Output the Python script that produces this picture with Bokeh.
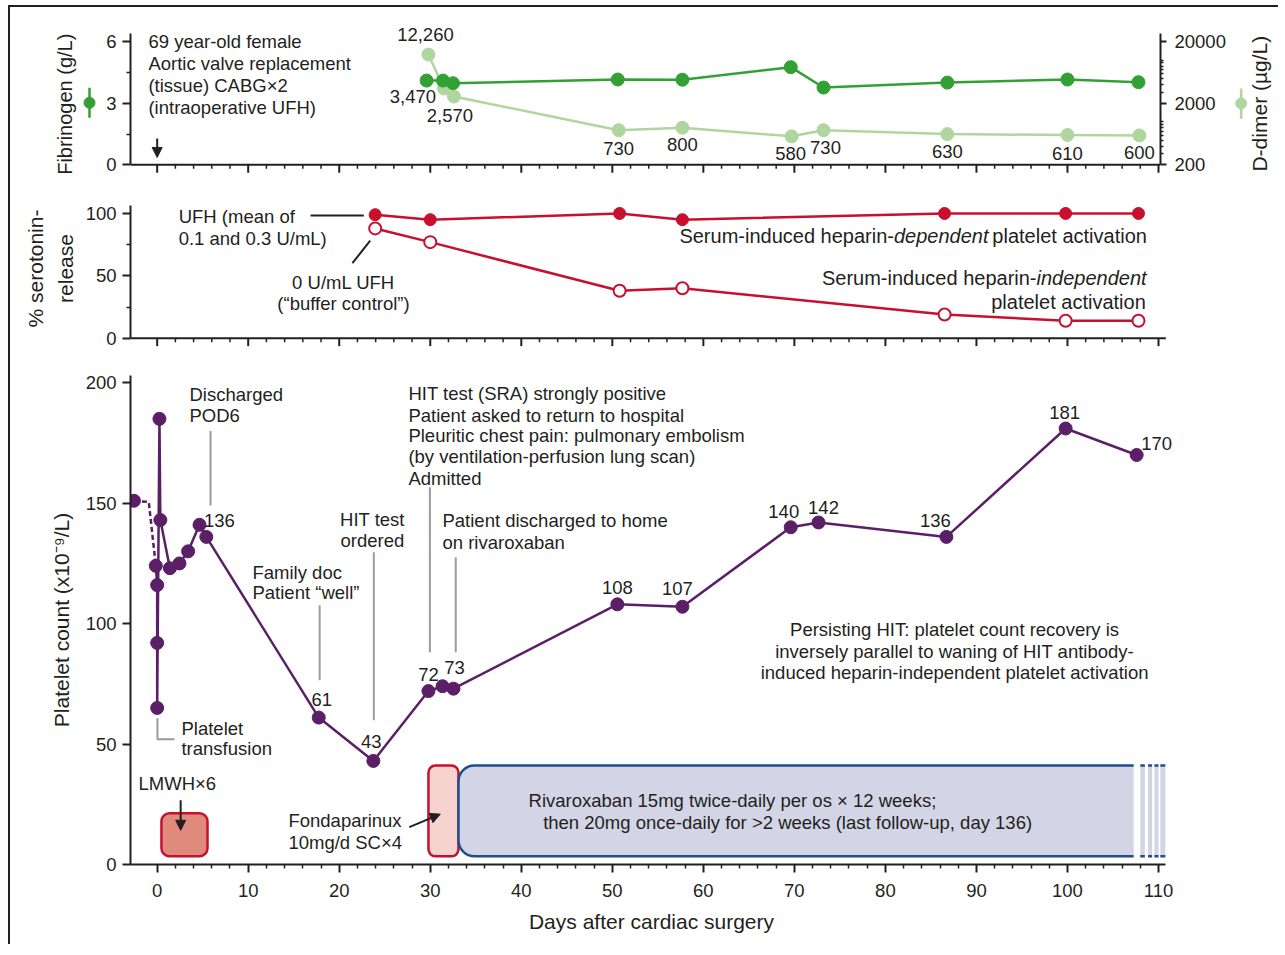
import math
from bokeh.plotting import figure
from bokeh.layouts import column, row
from bokeh.models import (Range1d, LogAxis, LogScale, FixedTicker, Arrow, NormalHead,
                          NumeralTickFormatter)
from bokeh.core.properties import value
from bokeh.embed import file_html
from bokeh.resources import INLINE

# ---------------- data ----------------
fib_days = [29.6, 31.4, 32.5, 50.6, 57.7, 69.6, 73.2, 86.8, 100.0, 107.8]
fibrinogen = [4.10, 4.10, 3.97, 4.15, 4.14, 4.75, 3.76, 4.00, 4.15, 4.02]
ddimer_days = [29.8, 31.5, 32.6, 50.7, 57.7, 69.7, 73.2, 86.8, 100.0, 107.9]
ddimer = [12260, 3470, 2570, 730, 800, 580, 730, 630, 610, 600]

sero_days = [23.95, 30.0, 50.8, 57.7, 86.5, 99.8, 107.8]
sero_ufh = [99, 95, 100, 95, 100, 100, 100]
sero_buffer = [88, 77, 38, 40, 19, 14, 14]

plt_days = [-2.55, -0.15, 0.0, 0.0, 0.0, 0.25, 0.35, 1.4, 2.45, 3.4, 4.65, 5.4,
            17.75, 23.75, 29.8, 31.35, 32.55, 50.55, 57.7, 69.6, 72.65, 86.7, 99.8, 107.6]
platelets = [151, 124, 116, 92, 65, 185, 143, 123, 125, 130, 141, 136,
             61, 43, 72, 74, 73, 108, 107, 140, 142, 136, 181, 170]

lmwh_period = [0.47, 5.53]
fonda_period = [29.8, 33.1]
riva_period = [33.1, 107.55]
riva_tail_left = [108.0, 108.85, 109.55, 110.2]
riva_tail_right = [108.5, 109.3, 110.0, 110.75]

x_ticks = list(range(0, 111, 10))
x_minor = [d for d in range(0, 111, 2) if d % 10]
fib_ticks = [0, 3, 6]
dd_ticks = [200, 2000, 20000]
sero_ticks = [0, 50, 100]
plt_ticks = [0, 50, 100, 150, 200]

# ---------------- style ----------------
FONT = "Liberation Sans"
INK = "#231f20"
GREEN = "#33a035"
LGREEN = "#b0d69f"
RED = "#c8102e"
PURPLE = "#5a1f66"
GRAY = "#9b9b9b"
BLUE = "#1f4f8a"
RIVA = "#d3d5e6"
FS = "18.5px"
TITLE_FS = "21px"

X_LEFT = -2.93
PX_PER_DAY = 9.103


def style_axis(ax):
    ax.axis_line_width = 2
    ax.axis_line_color = INK
    ax.major_tick_line_width = 2
    ax.major_tick_line_color = INK
    ax.minor_tick_line_width = 1.5
    ax.minor_tick_line_color = INK
    ax.major_tick_in = 0
    ax.major_tick_out = 8
    ax.minor_tick_in = 0
    ax.minor_tick_out = 4
    ax.major_label_text_font = FONT
    ax.major_label_text_font_size = FS
    ax.major_label_text_color = INK
    ax.axis_label_text_font = FONT
    ax.axis_label_text_font_size = TITLE_FS
    ax.axis_label_text_font_style = "normal"
    ax.axis_label_text_color = INK


def make_fig(width, height, xr, yr, bl, br, bt, bb):
    p = figure(width=width, height=height, x_range=xr, y_range=yr,
               output_backend="svg", toolbar_location=None,
               min_border_left=bl, min_border_right=br,
               min_border_top=bt, min_border_bottom=bb)
    p.outline_line_color = None
    p.grid.visible = False
    p.background_fill_color = "white"
    p.border_fill_color = "white"
    return p


def texts(p, xs, ys, txt, align="left", size=FS, style="normal", color=INK, **kw):
    p.text(x=xs, y=ys, text=txt, text_font=value(FONT), text_font_size=size,
           text_align=align, text_baseline="middle", text_color=color,
           text_font_style=style, **kw)


def glyph_xaxis(p, yr, frame_h, x_end):
    """x axis drawn inside the frame (line + ticks, no labels)."""
    scale = frame_h / (yr.end - yr.start)
    p.line([X_LEFT, x_end], [0, 0], line_color=INK, line_width=2)
    p.segment(x0=x_ticks, y0=[0] * len(x_ticks), x1=x_ticks,
              y1=[-8 / scale] * len(x_ticks), line_color=INK, line_width=2)
    p.segment(x0=x_minor, y0=[0] * len(x_minor), x1=x_minor,
              y1=[-4 / scale] * len(x_minor), line_color=INK, line_width=1.5)


# ================= top panel: fibrinogen / D-dimer =================
H1, BT1, BB1 = 173, 13, 7
FH1 = H1 - BT1 - BB1
fib_top_axis = 6.39
yr1 = Range1d(-0.42, 7.02)
scale1 = FH1 / (yr1.end - yr1.start)
x_end1 = X_LEFT + 1030 / PX_PER_DAY
p1 = make_fig(1136, H1, Range1d(X_LEFT, x_end1), yr1, 32, 74, BT1, BB1)
p1.xaxis.visible = False
p1.yaxis.ticker = FixedTicker(ticks=fib_ticks, minor_ticks=[1.5, 4.5])
style_axis(p1.yaxis[0])
p1.yaxis.bounds = (0, fib_top_axis)
p1.yaxis.major_label_standoff = 6

dd_lo = 200 * 10 ** (yr1.start / 3)
dd_hi = 200 * 10 ** (yr1.end / 3)
p1.extra_y_ranges = {"dd": Range1d(dd_lo, dd_hi)}
p1.extra_y_scales = {"dd": LogScale()}
dd_minor = list(range(300, 1001, 100)) + list(range(3000, 10001, 1000))
ax_dd = LogAxis(y_range_name="dd", ticker=FixedTicker(ticks=dd_ticks, minor_ticks=dd_minor),
                formatter=NumeralTickFormatter(format="0"))
style_axis(ax_dd)
ax_dd.bounds = (200, 200 * 10 ** (fib_top_axis / 3))
ax_dd.major_tick_out = 6
ax_dd.minor_tick_out = 3
ax_dd.major_label_standoff = 8
p1.add_layout(ax_dd, "right")
glyph_xaxis(p1, yr1, FH1, x_end1)

p1.line(ddimer_days, ddimer, y_range_name="dd", line_color=LGREEN, line_width=2.5)
p1.scatter(ddimer_days, ddimer, y_range_name="dd", size=13, fill_color=LGREEN, line_color=LGREEN)
p1.line(fib_days, fibrinogen, line_color=GREEN, line_width=2.5)
p1.scatter(fib_days, fibrinogen, size=13, fill_color=GREEN, line_color=GREEN)

dd_off = [(-3, -20), (-31, 8), (-4, 19), (0, 18), (0, 17), (-1, 17), (2, 17), (0, 17), (0, 19), (0, 17)]
p1.text(x=ddimer_days, y=ddimer, y_range_name="dd", text=[f"{v:,}" for v in ddimer],
        x_offset=[o[0] for o in dd_off], y_offset=[o[1] for o in dd_off],
        text_font=value(FONT), text_font_size=FS, text_align="center",
        text_baseline="middle", text_color=INK)

texts(p1, [-0.96] * 4, [6.0, 4.93, 3.86, 2.79],
      ["69 year-old female", "Aortic valve replacement", "(tissue) CABG×2", "(intraoperative UFH)"])
p1.add_layout(Arrow(end=NormalHead(size=10, fill_color=INK, line_color=INK),
                    x_start=0, y_start=1.28, x_end=0, y_end=0.36, line_width=2, line_color=INK))

# side strips holding the axis titles and their series keys (full-height frames)
side_yr = Range1d(yr1.start - BB1 / scale1, yr1.end + BT1 / scale1)
lf = make_fig(88, H1, Range1d(0, 88), side_yr, 0, 0, 0, 0)
lf.axis.visible = False
lf.line([79, 79], [3.96, 2.30], line_color=GREEN, line_width=2.5)
lf.scatter([79], [3.13], size=11, fill_color=GREEN, line_color=GREEN)
texts(lf, [54], [3.05], ["Fibrinogen (g/L)"], align="center", size="20px", angle=math.pi / 2)

rf = make_fig(44, H1, Range1d(0, 44), side_yr, 0, 0, 0, 0)
rf.axis.visible = False
rf.line([6.7, 6.7], [3.91, 2.25], line_color=LGREEN, line_width=2.5)
rf.scatter([6.7], [3.09], size=11, fill_color=LGREEN, line_color=LGREEN)
texts(rf, [25], [3.08], ["D-dimer (µg/L)"], align="center", size=TITLE_FS, angle=math.pi / 2)

# ================= middle panel: serotonin release =================
H2, BT2, BB2 = 174, 10, 8
FH2 = H2 - BT2 - BB2
yr2 = Range1d(-6.66, 118.4)
x_end23 = X_LEFT + 1042 / PX_PER_DAY
p2 = make_fig(1268, H2, Range1d(X_LEFT, x_end23), yr2, 120, 106, BT2, BB2)
p2.xaxis.visible = False
p2.yaxis.ticker = FixedTicker(ticks=sero_ticks, minor_ticks=[25, 75])
style_axis(p2.yaxis[0])
p2.yaxis.bounds = (0, 106.4)
p2.yaxis.axis_label = "% serotonin-\nrelease"
p2.yaxis.axis_label_text_line_height = 1.3
p2.yaxis.major_label_standoff = 6
p2.yaxis.axis_label_standoff = 6
glyph_xaxis(p2, yr2, FH2, 110.8)

p2.line(sero_days, sero_ufh, line_color=RED, line_width=2.5)
p2.scatter(sero_days, sero_ufh, size=12, fill_color=RED, line_color=RED)
p2.line(sero_days, sero_buffer, line_color=RED, line_width=2.5)
p2.scatter(sero_days, sero_buffer, size=12, fill_color="white", line_color=RED, line_width=2)

texts(p2, [2.36, 2.36], [97.6, 80.0], ["UFH (mean of", "0.1 and 0.3 U/mL)"])
p2.line([16.85, 22.7], [98.4, 98.4], line_color=INK, line_width=2)
texts(p2, [20.47, 20.47], [44.7, 27.8], ["0 U/mL UFH", "(“buffer control”)"], align="center")
p2.line([21.45, 23.4], [60.1, 78.3], line_color=INK, line_width=2)

texts(p2, [80.94], [81.6], ["Serum-induced heparin-"], align="right", size="20px")
texts(p2, [80.94], [81.6], ["dependent"], size="20px", style="italic")
texts(p2, [91.75], [81.6], ["platelet activation"], size="20px")
texts(p2, [96.6], [48.5], ["Serum-induced heparin-"], align="right", size="20px")
texts(p2, [96.6], [48.5], ["independent"], size="20px", style="italic")
texts(p2, [108.6], [29.3], ["platelet activation"], align="right", size="20px")

# ================= bottom panel: platelet count =================
p3 = make_fig(1268, 590, Range1d(X_LEFT, x_end23), Range1d(0, 203), 120, 106, 21, 80)
p3.xaxis.ticker = FixedTicker(ticks=x_ticks, minor_ticks=x_minor)
style_axis(p3.xaxis[0])
p3.xaxis.bounds = (X_LEFT, 110.8)
p3.xaxis.axis_label = "Days after cardiac surgery"
p3.xaxis.major_label_standoff = 11
p3.xaxis.axis_label_standoff = 10
p3.yaxis.ticker = FixedTicker(ticks=plt_ticks, minor_ticks=[])
style_axis(p3.yaxis[0])
p3.yaxis.axis_label = "Platelet count (x10⁻⁹/L)"
p3.yaxis.major_label_standoff = 6
p3.yaxis.axis_label_standoff = 10

# treatment boxes
p3.quad(left=[lmwh_period[0]], right=[lmwh_period[1]], bottom=[3.4], top=[21.3],
        fill_color="#e08a7d", line_color=RED, line_width=2.5, border_radius=8)
p3.quad(left=[fonda_period[0]], right=[fonda_period[1]], bottom=[3.4], top=[41.1],
        fill_color="#f6d3ce", line_color=RED, line_width=2.5, border_radius=7)
p3.quad(left=[riva_period[0]], right=[riva_period[1]], bottom=[3.4], top=[41.1],
        fill_color=RIVA, line_color=BLUE, line_width=2.5, border_radius=(16, 0, 0, 16))
p3.segment(x0=[riva_period[1]], y0=[1.5], x1=[riva_period[1]], y1=[43.0],
           line_color="white", line_width=5)
p3.quad(left=riva_tail_left, right=riva_tail_right, bottom=[3.4] * 4, top=[41.1] * 4,
        fill_color=RIVA, line_color=None)
p3.segment(x0=riva_tail_left * 2, y0=[3.4] * 4 + [41.1] * 4, x1=riva_tail_right * 2,
           y1=[3.4] * 4 + [41.1] * 4, line_color=BLUE, line_width=2.5)

# annotation guide lines
p3.segment(x0=[5.86, 17.85, 23.8, 29.96, 32.8], y0=[180, 107.6, 129.6, 156.6, 127.5],
           x1=[5.86, 17.85, 23.8, 29.96, 32.8], y1=[149, 76.5, 59.9, 88.1, 88.1],
           line_color=GRAY, line_width=2)
p3.line([0.03, 0.03, 1.9], [60.7, 52, 52], line_color=GRAY, line_width=2)

# platelet series
p3.line(plt_days[:1] + [-0.92] + plt_days[1:2], platelets[:1] + [platelets[0] - 0.5] + platelets[1:2],
        line_color=PURPLE, line_width=2.5, line_dash="5 3")
p3.line(plt_days[1:], platelets[1:], line_color=PURPLE, line_width=2.5)
p3.scatter(plt_days, platelets, size=13, fill_color=PURPLE, line_color=PURPLE)

lab_off = {11: (13, -16), 12: (3, -18), 13: (-2, -19), 14: (0, -17), 16: (1, -21),
           17: (0, -17), 18: (-5, -18), 19: (-7, -16), 20: (5, -15), 21: (-11, -16),
           22: (-1, -16), 23: (20, -11)}
idx = sorted(lab_off)
p3.text(x=[plt_days[i] for i in idx], y=[platelets[i] for i in idx],
        text=[str(platelets[i]) for i in idx],
        x_offset=[lab_off[i][0] for i in idx], y_offset=[lab_off[i][1] for i in idx],
        text_font=value(FONT), text_font_size=FS, text_align="center",
        text_baseline="middle", text_color=INK)

texts(p3, [3.55, 3.55], [195.3, 186.6], ["Discharged", "POD6"])
texts(p3, [2.67, 2.67], [56.4, 48.2], ["Platelet", "transfusion"])
texts(p3, [10.47, 10.47], [121.1, 112.8], ["Family doc", "Patient “well”"])
texts(p3, [23.65, 23.65], [143.1, 134.4], ["HIT test", "ordered"], align="center")
texts(p3, [27.6] * 5, [195.7, 186.6, 177.9, 169.2, 160.1],
      ["HIT test (SRA) strongly positive", "Patient asked to return to hospital",
       "Pleuritic chest pain: pulmonary embolism", "(by ventilation-perfusion lung scan)",
       "Admitted"])
texts(p3, [31.34, 31.34], [142.7, 133.5], ["Patient discharged to home", "on rivaroxaban"])
texts(p3, [87.6] * 3, [97.5, 88.4, 79.7],
      ["Persisting HIT: platelet count recovery is",
       "inversely parallel to waning of HIT antibody-",
       "induced heparin-independent platelet activation"], align="center")
texts(p3, [-2.05], [33.7], ["LMWH×6"])
texts(p3, [14.42, 14.42], [18.4, 9.2], ["Fondaparinux", "10mg/d SC×4"])
texts(p3, [40.8, 42.4], [26.7, 17.5],
      ["Rivaroxaban 15mg twice-daily per os × 12 weeks;",
       "then 20mg once-daily for >2 weeks (last follow-up, day 136)"])

p3.add_layout(Arrow(end=NormalHead(size=10, fill_color=INK, line_color=INK),
                    x_start=2.58, y_start=26.7, x_end=2.58, y_end=14.2, line_width=2, line_color=INK))
p3.add_layout(Arrow(end=NormalHead(size=10, fill_color=INK, line_color=INK),
                    x_start=27.7, y_start=15.5, x_end=31.1, y_end=20.9, line_width=2, line_color=INK))

layout = column(row(lf, p1, rf), p2, p3, margin=(5, 0, 0, 8),
                styles={"border-top": "2px solid #231f20", "border-left": "2px solid #231f20"})
open("out.html", "w").write(file_html(layout, INLINE))
